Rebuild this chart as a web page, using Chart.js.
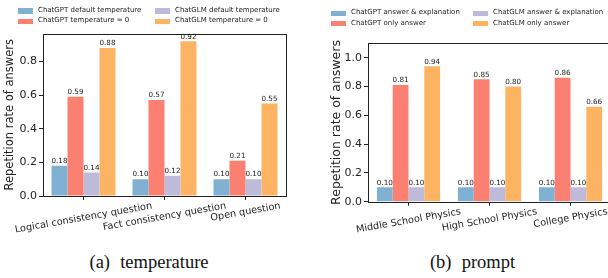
<!DOCTYPE html>
<html>
<head>
<meta charset="utf-8">
<script src="https://cdn.jsdelivr.net/npm/chart.js@4.4.0/dist/chart.umd.min.js"></script>
<style>
  html, body { margin: 0; padding: 0; background: #fff; }
  #page { position: relative; width: 608px; height: 278px; overflow: hidden; background: #fff; }
  #page canvas { position: absolute; top: 0; }
  .legend-item { position: absolute; white-space: nowrap; height: 10px; line-height: 10px;
    font: 7px "DejaVu Sans", sans-serif; color: #222; }
  .legend-item i { position: absolute; left: 0; top: 2.25px; width: 15px; height: 5.5px; }
  .legend-item span { position: absolute; left: 20px; top: 0; }
  .caption { position: absolute; top: 252.5px; font: 18.5px "Liberation Serif", serif; line-height: 18.5px;
    color: #111; transform: translateX(-50%); white-space: nowrap; word-spacing: 0.3em; }
</style>
</head>
<body>
<div id="page">
  <canvas id="tempChart" width="300" height="250" style="left:0"></canvas>
  <canvas id="promptChart" width="320" height="250" style="left:304px"></canvas>
  <div class="caption" style="left:149px">(a) temperature</div>
  <div class="caption" style="left:472.5px">(b) prompt</div>
</div>
<script>
// ===== DATA =====
const COLORS = ['#80B1D3', '#FB8072', '#BEBADA', '#FDB462'];
const Y_TITLE = 'Repetition rate of answers';

// (a) temperature
const tempCategories = ['Logical consistency question', 'Fact consistency question', 'Open question'];
const tempSeries = ['ChatGPT default temperature', 'ChatGPT temperature = 0', 'ChatGLM default temperature', 'ChatGLM temperature = 0'];
const gptDefaultTemp = [0.18, 0.10, 0.10];
const gptZeroTemp = [0.59, 0.57, 0.21];
const glmDefaultTemp = [0.14, 0.12, 0.10];
const glmZeroTemp = [0.88, 0.92, 0.55];
const tempTicks = [0.0, 0.2, 0.4, 0.6, 0.8];

// (b) prompt
const promptCategories = ['Middle School Physics', 'High School Physics', 'College Physics'];
const promptSeries = ['ChatGPT answer & explanation', 'ChatGPT only answer', 'ChatGLM answer & explanation', 'ChatGLM only answer'];
const gptExplain = [0.10, 0.10, 0.10];
const gptOnly = [0.81, 0.85, 0.86];
const glmExplain = [0.10, 0.10, 0.10];
const glmOnly = [0.94, 0.80, 0.66];
const promptTicks = [0.0, 0.2, 0.4, 0.6, 0.8, 1.0];

const FONT = '"DejaVu Sans", sans-serif';
const INK = '#222';

// frame, value labels, rotated centred category labels
const decorPlugin = {
  id: 'decor',
  afterDatasetsDraw(chart) {
    const ctx = chart.ctx;
    ctx.save();
    ctx.font = '7.2px ' + FONT;
    ctx.fillStyle = INK;
    ctx.textAlign = 'center';
    ctx.textBaseline = 'bottom';
    chart.data.datasets.forEach((ds, i) => {
      chart.getDatasetMeta(i).data.forEach((bar, j) => {
        ctx.fillText(ds.data[j].toFixed(2), bar.x, bar.y - 1);
      });
    });
    ctx.restore();
  },
  afterDraw(chart) {
    const { ctx, chartArea: a } = chart;
    const xs = chart.scales.x;
    ctx.save();
    ctx.strokeStyle = INK;
    ctx.lineWidth = 1;
    const l = Math.round(a.left) + 0.5, t = Math.round(a.top) + 0.5;
    const r = Math.round(a.right) + 0.5, b = Math.round(a.bottom) + 0.5;
    ctx.strokeRect(l, t, r - l, b - t);

    const rot = 10 * Math.PI / 180;
    ctx.font = '9.7px ' + FONT;
    ctx.fillStyle = INK;
    ctx.textAlign = 'center';
    ctx.textBaseline = 'middle';
    chart.data.labels.forEach((lab, i) => {
      const w = ctx.measureText(lab).width;
      const cy = a.bottom + 5 + (w * Math.sin(rot) + 10 * Math.cos(rot)) / 2;
      ctx.save();
      ctx.translate(xs.getPixelForTick(i), cy);
      ctx.rotate(-rot);
      ctx.fillText(lab, 0, 0);
      ctx.restore();
    });
    ctx.restore();
  }
};

function makeChart(id, cfg) {
  const ctx = document.getElementById(id).getContext('2d');
  return new Chart(ctx, {
    type: 'bar',
    data: {
      labels: cfg.categories,
      datasets: cfg.series.map((name, i) => ({
        label: name,
        data: cfg.values[i],
        backgroundColor: COLORS[i],
        borderWidth: 0,
        barPercentage: 1.0,
        categoryPercentage: cfg.groupPct
      }))
    },
    options: {
      responsive: false,
      animation: false,
      devicePixelRatio: 1,
      layout: { autoPadding: false, padding: { top: cfg.top, right: cfg.right, left: 0, bottom: 0 } },
      plugins: { legend: { display: false }, tooltip: { enabled: false } },
      scales: {
        x: {
          offset: true,
          grid: { display: true, offset: false, drawOnChartArea: false, drawTicks: true, tickLength: 4, color: INK },
          border: { display: false },
          ticks: { display: false },
          afterFit: s => { s.height = cfg.xHeight; }
        },
        y: {
          min: 0,
          max: cfg.yMax,
          afterBuildTicks: s => { s.ticks = cfg.ticks.map(v => ({ value: v })); },
          ticks: {
            padding: 2,
            color: INK,
            font: { family: FONT, size: cfg.tickSize },
            callback: v => v.toFixed(1)
          },
          grid: { display: true, drawOnChartArea: false, drawTicks: true, tickLength: 4, color: INK },
          border: { display: false },
          title: {
            display: true,
            text: Y_TITLE,
            color: INK,
            font: { family: FONT, size: cfg.titleSize },
            padding: { top: cfg.titlePad, bottom: 0 }
          },
          afterFit: s => { s.width = cfg.yWidth; }
        }
      }
    },
    plugins: [decorPlugin]
  });
}

function renderLegend(series, x0, x1, y0, y1) {
  const page = document.getElementById('page');
  const spots = [[x0, y0], [x0, y1], [x1, y0], [x1, y1]]; // column-wise like the original
  series.forEach((name, i) => {
    const item = document.createElement('div');
    item.className = 'legend-item';
    item.style.left = spots[i][0] + 'px';
    item.style.top = (spots[i][1] - 5) + 'px';
    item.innerHTML = `<i style="background:${COLORS[i]}"></i><span></span>`;
    item.querySelector('span').textContent = name;
    page.appendChild(item);
  });
}

makeChart('tempChart', {
  categories: tempCategories,
  series: tempSeries,
  values: [gptDefaultTemp, gptZeroTemp, glmDefaultTemp, glmZeroTemp],
  ticks: tempTicks,
  yMax: 0.966,
  groupPct: 0.79,
  top: 33.5, right: 14, xHeight: 54, yWidth: 43,
  tickSize: 11, titleSize: 11.5, titlePad: 3.1
});

makeChart('promptChart', {
  categories: promptCategories,
  series: promptSeries,
  values: [gptExplain, gptOnly, glmExplain, glmOnly],
  ticks: promptTicks,
  yMax: 1.1,
  groupPct: 0.78,
  top: 43.3, right: 13, xHeight: 48.3, yWidth: 64,
  tickSize: 11, titleSize: 12.5, titlePad: 25.2
});

renderLegend(tempSeries, 18, 155, 11, 21.3);
renderLegend(promptSeries, 331, 473, 13.3, 23.7);
</script>
</body>
</html>
